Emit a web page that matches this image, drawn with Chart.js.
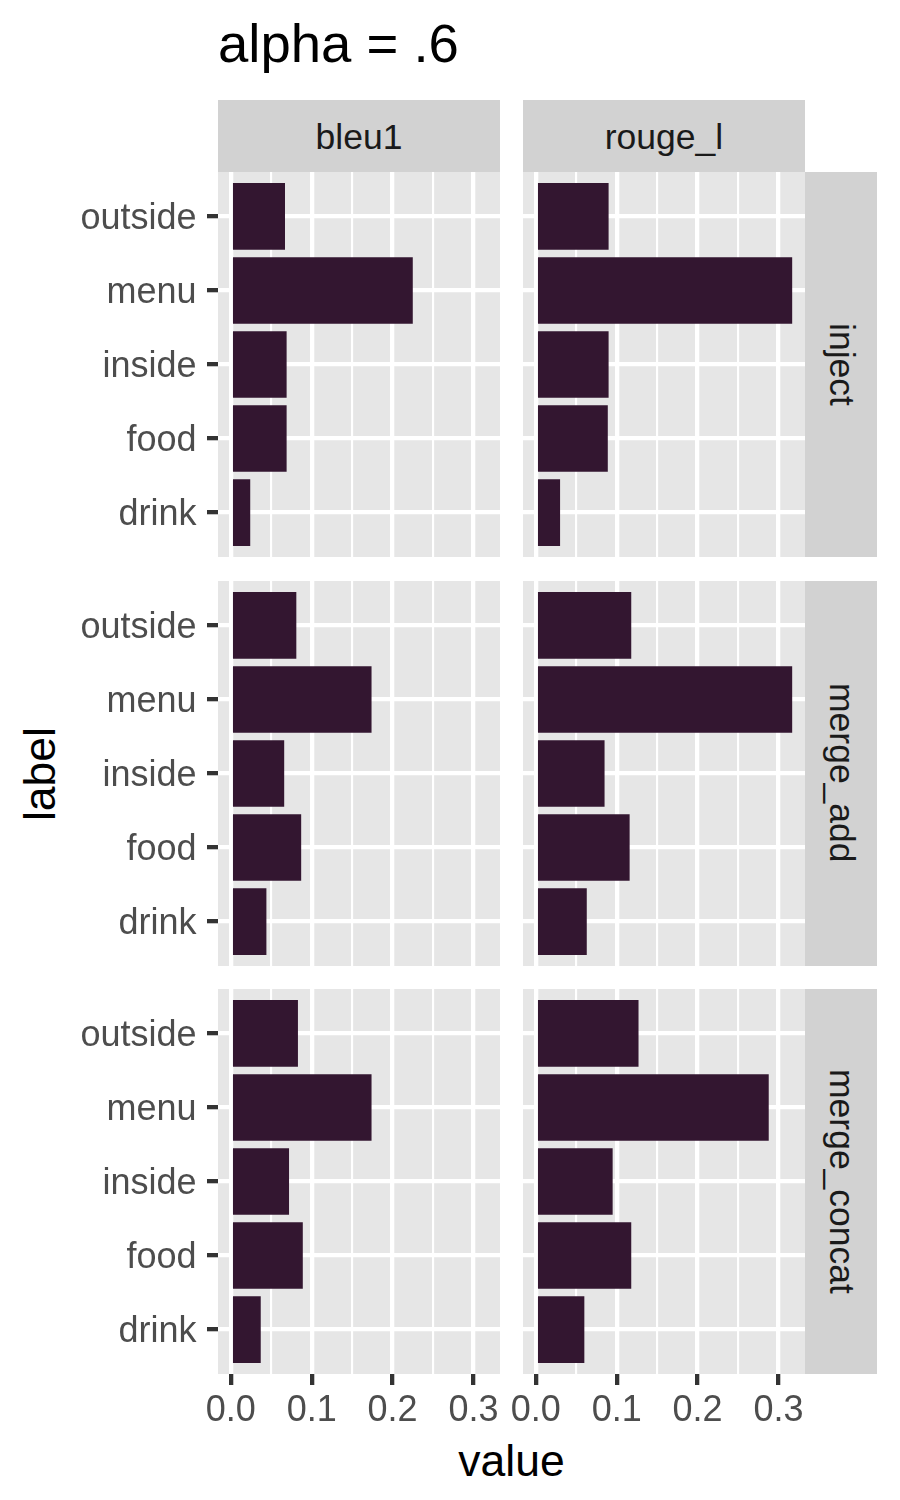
<!DOCTYPE html>
<html>
<head>
<meta charset="utf-8">
<script src="https://cdn.jsdelivr.net/npm/chart.js@4.4.1/dist/chart.umd.min.js"></script>
<style>
  html, body { margin: 0; padding: 0; background: #ffffff; }
  body { width: 900px; height: 1500px; position: relative; overflow: hidden;
         font-family: 'Liberation Sans', Arial, Helvetica, sans-serif; }
  canvas { position: absolute; }
  .txt { position: absolute; line-height: 1; white-space: nowrap; }
  .strip { position: absolute; background: #D2D2D2; color: #1A1A1A; font-size: 35.5px;
           line-height: 1; display: flex; align-items: center; justify-content: center; }
  .strip.v span { writing-mode: vertical-rl; }
  .strip.h span { position: relative; top: 1.5px; }
</style>
</head>
<body>
<div class="txt" style="left:218px; top:17px; font-size:54.5px; color:#000;">alpha = .6</div>
<div class="txt" style="left:39.6px; top:774px; font-size:44.5px; color:#000; transform:translate(-50%,-50%) rotate(-90deg);">label</div>
<div class="txt" style="left:511.5px; top:1439px; font-size:44.5px; color:#000; transform:translateX(-50%);">value</div>
<div id="root"></div>
<script>
// ---------------- data ----------------
const categories = ['drink', 'food', 'inside', 'menu', 'outside'];
const metrics = ['bleu1', 'rouge_l'];
const methods = ['inject', 'merge_add', 'merge_concat'];

const bleu1_inject        = [0.024, 0.069, 0.069, 0.225, 0.067];
const rouge_l_inject      = [0.030, 0.089, 0.090, 0.317, 0.090];
const bleu1_merge_add     = [0.044, 0.087, 0.066, 0.174, 0.081];
const rouge_l_merge_add   = [0.063, 0.116, 0.085, 0.317, 0.118];
const bleu1_merge_concat  = [0.037, 0.089, 0.072, 0.174, 0.083];
const rouge_l_merge_concat= [0.060, 0.118, 0.095, 0.288, 0.127];

const xMajorTicks = [0.0, 0.1, 0.2, 0.3];
const xMinorTicks = [0.05, 0.15, 0.25];

const seriesTable = {
  inject:       { bleu1: bleu1_inject,       rouge_l: rouge_l_inject },
  merge_add:    { bleu1: bleu1_merge_add,    rouge_l: rouge_l_merge_add },
  merge_concat: { bleu1: bleu1_merge_concat, rouge_l: rouge_l_merge_concat }
};

// ---------------- style / layout ----------------
const FONT = "'Liberation Sans', Arial, Helvetica, sans-serif";
const BAR_COLOR = '#331630';
const PANEL_BG = '#E6E6E6';
const PANEL_LEFT = [218, 523];
const PANEL_W = 282;
const ROW_TOP = [172, 580.5, 989];
const PANEL_H = 385;
const MAJOR_W = 4.3, MINOR_W = 2.15;
const TICK_FONT = 36;

const allVals = [].concat(...methods.map(m => metrics.map(k => seriesTable[m][k])).flat());
const dataMax = Math.max(...allVals);
const xMin = -0.05 * dataMax, xMax = 1.05 * dataMax;
const gridVals = xMajorTicks.concat(xMinorTicks).sort((a, b) => a - b);
const isMajor = v => xMajorTicks.some(t => Math.abs(t - v) < 1e-9);

const bgPlugin = {
  id: 'panelBg',
  beforeDraw(chart) {
    const { ctx, chartArea: a } = chart;
    ctx.save();
    ctx.fillStyle = PANEL_BG;
    ctx.fillRect(a.left, a.top, a.right - a.left, a.bottom - a.top);
    ctx.restore();
  }
};

const root = document.getElementById('root');

// strips
metrics.forEach((m, c) => {
  const d = document.createElement('div');
  d.className = 'strip h';
  d.style.cssText = `left:${PANEL_LEFT[c]}px; top:100px; width:${PANEL_W}px; height:72px;`;
  d.innerHTML = `<span>${m}</span>`;
  root.appendChild(d);
});
methods.forEach((m, r) => {
  const d = document.createElement('div');
  d.className = 'strip v';
  d.style.cssText = `left:805px; top:${ROW_TOP[r]}px; width:72px; height:${PANEL_H}px;`;
  d.innerHTML = `<span>${m}</span>`;
  root.appendChild(d);
});

function zeroPad(s) { s.paddingLeft = 0; s.paddingRight = 0; s.paddingTop = 0; s.paddingBottom = 0; }

methods.forEach((method, r) => {
  metrics.forEach((metric, c) => {
    const isLeft = c === 0;
    const isBottom = r === methods.length - 1;
    const vals = seriesTable[method][metric];
    const yAxisW = isLeft ? 218 : 23;
    const xAxisH = isBottom ? 80 : 0;
    const cv = document.createElement('canvas');
    const w = yAxisW + PANEL_W, h = PANEL_H + xAxisH;
    cv.width = w; cv.height = h;
    cv.style.left = (PANEL_LEFT[c] - yAxisW) + 'px';
    cv.style.top = ROW_TOP[r] + 'px';
    cv.style.width = w + 'px'; cv.style.height = h + 'px';
    root.appendChild(cv);

    new Chart(cv, {
      type: 'bar',
      data: {
        datasets: [{
          data: categories.map((cat, i) => ({ x: vals[i], y: i + 1 })),
          backgroundColor: BAR_COLOR,
          borderWidth: 0,
          categoryPercentage: 0.9,
          barPercentage: 1.0
        }]
      },
      options: {
        indexAxis: 'y',
        responsive: false,
        animation: false,
        events: [],
        layout: { padding: 0 },
        plugins: { legend: { display: false }, tooltip: { enabled: false }, title: { display: false } },
        scales: {
          x: {
            type: 'linear', position: 'bottom', min: xMin, max: xMax, bounds: 'data',
            offset: false,
            afterBuildTicks: s => { s.ticks = gridVals.map(v => ({ value: v })); },
            afterFit: s => { s.height = xAxisH; zeroPad(s); },
            border: { display: false },
            grid: {
              offset: false,
              color: '#ffffff',
              lineWidth: ctx => isMajor(ctx.tick.value) ? MAJOR_W : MINOR_W,
              drawTicks: isBottom,
              tickLength: 11,
              tickColor: ctx => isMajor(ctx.tick.value) ? '#333333' : 'rgba(0,0,0,0)',
              tickWidth: ctx => isMajor(ctx.tick.value) ? MAJOR_W : 0.0001
            },
            ticks: {
              display: isBottom, padding: 4, autoSkip: false, maxRotation: 0, minRotation: 0,
              color: '#4D4D4D', font: { family: FONT, size: TICK_FONT },
              callback: v => isMajor(v) ? v.toFixed(1) : ''
            }
          },
          y: {
            type: 'linear', position: 'left', min: 0.4, max: categories.length + 0.6, bounds: 'data',
            offset: false,
            afterBuildTicks: s => { s.ticks = categories.map((cat, i) => ({ value: i + 1 })); },
            afterFit: s => { s.width = yAxisW; zeroPad(s); },
            border: { display: false },
            grid: {
              offset: false,
              color: '#ffffff', lineWidth: MAJOR_W,
              drawTicks: isLeft, tickLength: 11, tickColor: '#333333', tickWidth: MAJOR_W
            },
            ticks: {
              display: isLeft, padding: 10.5, autoSkip: false, labelOffset: 3,
              color: '#4D4D4D', font: { family: FONT, size: TICK_FONT },
              callback: v => categories[Math.round(v) - 1]
            }
          }
        }
      },
      plugins: [bgPlugin]
    });
  });
});
</script>
</body>
</html>
